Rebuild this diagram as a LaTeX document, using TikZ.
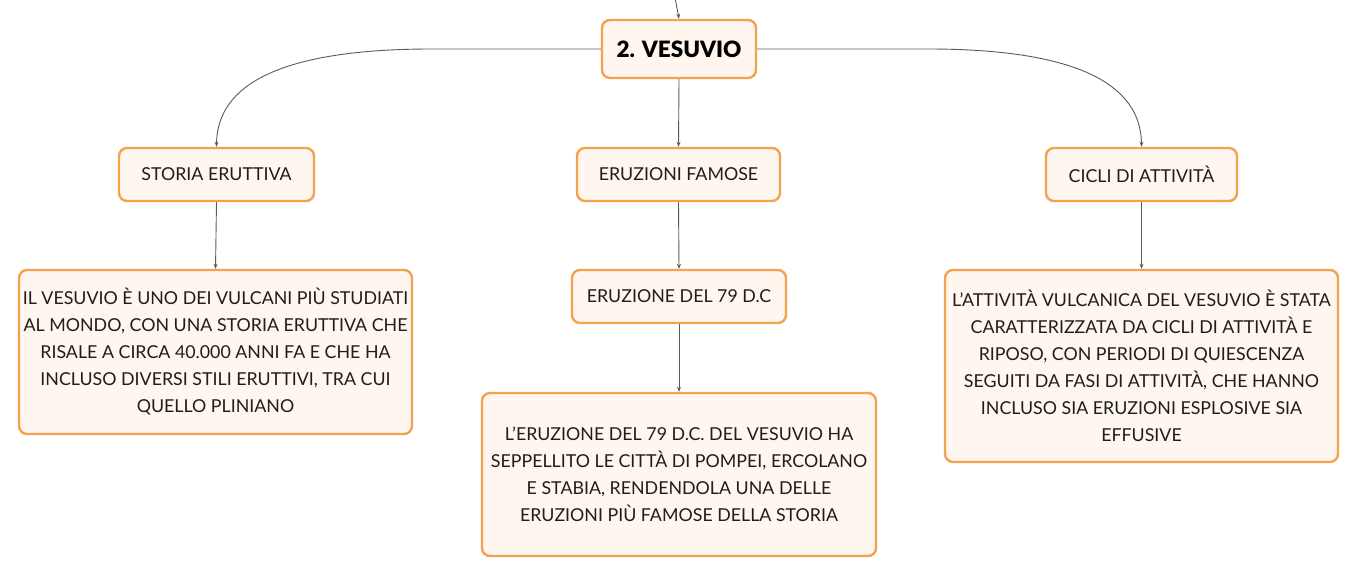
\documentclass[tikz,border=0pt]{standalone}
\usepackage{fontspec}
\setmainfont{Lato}
\newfontfamily\titlefont{Lato Black}
\usetikzlibrary{arrows.meta}
\definecolor{boxborder}{HTML}{F3A24E}
\definecolor{boxfill}{HTML}{FEF6EF}
\definecolor{linkgray}{HTML}{5A5A5A}
\definecolor{txt}{HTML}{1E1E1E}
\tikzset{
  box/.style={draw=boxborder, fill=boxfill, line width=2.4pt, rounded corners=8pt,
    align=center, inner sep=0pt, font=\fontsize{17.8}{27}\selectfont, text=txt},
  link/.style={draw=linkgray, line width=0.9pt, -{Stealth[length=5pt,width=4pt]}},
}
\begin{document}
\begin{tikzpicture}[x=1pt,y=-1pt]
\useasboundingbox (0,0) rectangle (1359,577);
% nodes
\node[box, minimum width=154pt, minimum height=58pt, font=\titlefont\fontsize{22.5}{26}\selectfont, text=black] (main) at (679,49) {2. VESUVIO};
\node[box, minimum width=195pt, minimum height=53pt] (storia) at (216.5,174.5) {STORIA ERUTTIVA};
\node[box, minimum width=203pt, minimum height=53pt] (famose) at (678.5,174.5) {ERUZIONI FAMOSE};
\node[box, minimum width=191pt, minimum height=53pt] (cicli) at (1141.5,174.5) {CICLI DI ATTIVITÀ};
\node[box, minimum width=393pt, minimum height=164pt] (storiatxt) at (215.5,352) {IL VESUVIO È UNO DEI VULCANI PIÙ STUDIATI\\AL MONDO, CON UNA STORIA ERUTTIVA CHE\\RISALE A CIRCA 40.000 ANNI FA E CHE HA\\INCLUSO DIVERSI STILI ERUTTIVI, TRA CUI\\QUELLO PLINIANO};
\node[box, minimum width=214pt, minimum height=53pt] (eruz79) at (679,296.5) {ERUZIONE DEL 79 D.C};
\node[box, minimum width=394pt, minimum height=163pt] (eruz79txt) at (679,474.5) {L'ERUZIONE DEL 79 D.C. DEL VESUVIO HA\\SEPPELLITO LE CITTÀ DI POMPEI, ERCOLANO\\E STABIA, RENDENDOLA UNA DELLE\\ERUZIONI PIÙ FAMOSE DELLA STORIA};
\node[box, minimum width=393pt, minimum height=192pt] (ciclitxt) at (1141.5,366) {L'ATTIVITÀ VULCANICA DEL VESUVIO È STATA\\CARATTERIZZATA DA CICLI DI ATTIVITÀ E\\RIPOSO, CON PERIODI DI QUIESCENZA\\SEGUITI DA FASI DI ATTIVITÀ, CHE HANNO\\INCLUSO SIA ERUZIONI ESPLOSIVE SIA\\EFFUSIVE};
% connectors
\coordinate (incoming) at (675,-2);
\draw[link] (incoming) .. controls (677,8) .. (main.north);
\draw[link] (main.west) -- (432,49) .. controls (260,49) and (217,95) .. (storia.north);
\draw[link] (main.east) -- (928,49) .. controls (1098,49) and (1141,95) .. (cicli.north);
\draw[link] (main.south) -- (famose.north);
\draw[link] (storia.south) -- (storiatxt.north);
\draw[link] (famose.south) -- (eruz79.north);
\draw[link] (eruz79.south) -- (eruz79txt.north);
\draw[link] (cicli.south) -- (ciclitxt.north);
\end{tikzpicture}
\end{document}
